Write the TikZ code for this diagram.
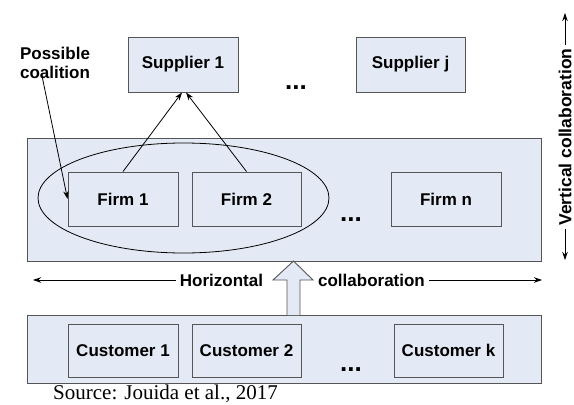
\documentclass[tikz,border=0pt]{standalone}
\usepackage{fontspec}
\setmainfont{Liberation Serif}
\setsansfont{Liberation Sans}
\usetikzlibrary{arrows.meta,shapes.geometric}
\definecolor{boxfill}{HTML}{E4EAF5}
\definecolor{boxline}{HTML}{555555}
\begin{document}
\begin{tikzpicture}[x=1pt,y=-1pt,
  lbl/.style={font=\fontsize{17}{19}\selectfont\sffamily\bfseries},
  panel/.style={draw=boxline, fill=boxfill, line width=0.9pt, inner sep=0pt},
  unit/.style={panel, lbl, minimum height=54pt, minimum width=110pt},
  dotrow/.style={font=\fontsize{26}{26}\selectfont\sffamily\bfseries, anchor=base, inner sep=0pt},
  arr/.style={-{Stealth[length=8pt,width=5.5pt]}, line width=0.8pt},
  axis/.style={-{Stealth[length=8pt,width=5.5pt]}, line width=0.8pt}]
\useasboundingbox (0,0) rectangle (574,405);

% supplier tier
\node[unit, minimum height=55pt] (sup1) at (183,64.5) {Supplier 1};
\node[unit, minimum height=55pt, minimum width=109pt] (supj) at (410.5,64.5) {Supplier j};
\node[dotrow] (dtop) at (296,89) {...};

% firm tier
\node[panel, minimum width=514pt, minimum height=123pt] (firms) at (284,199.5) {};
\node[draw=black, line width=0.8pt, ellipse, minimum width=291pt, minimum height=110pt, inner sep=0pt] (coal) at (183.5,198) {};
\node[unit] (firm1) at (123,199) {Firm 1};
\node[unit, minimum width=109pt] (firm2) at (246.5,199) {Firm 2};
\node[unit] (firmn) at (446,199) {Firm n};
\node[dotrow] (dmid) at (351,221) {...};

% customer tier
\node[panel, minimum width=514pt, minimum height=68pt] (cust) at (284,349) {};
\node[unit, minimum height=53pt] (cust1) at (123,350.5) {Customer 1};
\node[unit, minimum height=53pt, minimum width=109pt] (cust2) at (246.5,350.5) {Customer 2};
\node[unit, minimum height=53pt, minimum width=109pt] (custk) at (448.5,350.5) {Customer k};
\node[dotrow] (dbot) at (351,371) {...};

% hollow arrow from customers up to firms
\draw[panel, line join=miter] (287,315) -- (287,280) -- (273,280) -- (293.5,261)
  -- (313,280) -- (300,280) -- (300,315);

% coalition callout
\node[lbl, align=center, inner sep=1pt] (pc) at (55,63) {Possible\\coalition};
\draw[arr] ([xshift=-13pt,yshift=4pt]pc.south) -- (firm1.west);

% firms to supplier
\draw[arr] (firm1.north) -- ([xshift=-1pt]sup1.south);
\draw[arr] (firm2.north) -- ([xshift=3pt]sup1.south);

% horizontal collaboration
\node[lbl, inner xsep=4pt, inner ysep=0pt] (hor) at (221.5,280) {Horizontal};
\node[lbl, inner xsep=4pt, inner ysep=0pt] (col) at (371.5,280) {collaboration};
\coordinate (hl) at (33,280);
\coordinate (hr) at (542,280);
\draw[axis] (hor.west) -- (hl);
\draw[axis] (col.east) -- (hr);

% vertical collaboration
\node[lbl, font=\fontsize{17.5}{19}\selectfont\sffamily\bfseries, rotate=90, inner xsep=3pt, inner ysep=0pt] (vert) at (565,137) {Vertical collaboration};
\coordinate (vt) at (565,13);
\coordinate (vb) at (565,260);
\draw[axis] (vert.east) -- (vt);
\draw[axis] (vert.west) -- (vb);

% source line
\node[anchor=base west, inner sep=0pt, font=\fontsize{21}{23}\selectfont] (src) at (53,399) {Source: Jouida et al., 2017};
\end{tikzpicture}
\end{document}
